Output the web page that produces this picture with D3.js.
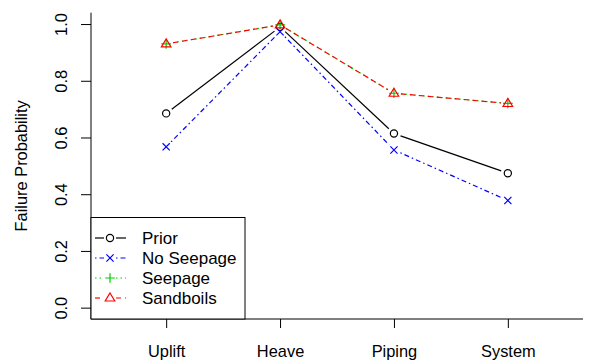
<!DOCTYPE html>
<html>
<head>
<meta charset="utf-8">
<script src="https://cdn.jsdelivr.net/npm/d3@7"></script>
<style>
  body { margin: 0; background: #fff; }
  text { font-family: "Liberation Sans", Arial, sans-serif; }
</style>
</head>
<body>
<svg id="chart" width="593" height="360"></svg>
<script>
var categories = ["Uplift", "Heave", "Piping", "System"];
var prior = [0.685, 0.99, 0.614, 0.474];
var noSeepage = [0.567, 0.973, 0.556, 0.378];
var seepage = [0.93, 0.997, 0.756, 0.72];
var sandboils = [0.93, 0.997, 0.756, 0.72];
var yTicks = [0, 0.2, 0.4, 0.6, 0.8, 1.0];

var series = [
    { name: "Prior", values: prior, color: "#000000", dash: null, pch: "circle" },
    { name: "No Seepage", values: noSeepage, color: "#0000ff", dash: "1.5,3,5,3", pch: "cross" },
    { name: "Seepage", values: seepage, color: "#00cd00", dash: "1.5,3", pch: "plus" },
    { name: "Sandboils", values: sandboils, color: "#ff0000", dash: "5,4", pch: "triangle" }
];

var svg = d3.select("#chart");
var plotLeft = 91, plotRight = 583, plotTop = 12.7, plotBottom = 319;
var fontSize = 16.4;

var x = d3.scaleLinear().domain([0.34, 4.66]).range([plotLeft, plotRight]);
var y = d3.scaleLinear().domain([-0.04, 1.04]).range([plotBottom, plotTop]);

// axes (L-shaped box)
svg.append("line").attr("x1", plotLeft).attr("x2", plotRight).attr("y1", plotBottom).attr("y2", plotBottom)
    .attr("stroke", "#000").attr("stroke-width", 1);
svg.append("line").attr("x1", plotLeft).attr("x2", plotLeft).attr("y1", plotTop).attr("y2", plotBottom)
    .attr("stroke", "#000").attr("stroke-width", 1);

var xAxis = d3.axisBottom(x).tickValues([1, 2, 3, 4])
    .tickFormat(function(d) { return categories[d - 1]; })
    .tickSize(9);
var gx = svg.append("g").attr("transform", "translate(0," + plotBottom + ")").call(xAxis);
gx.select(".domain").remove();
gx.selectAll(".tick text").attr("font-size", fontSize).attr("fill", "#000")
    .style("font-family", "'Liberation Sans', Arial, sans-serif")
    .attr("y", 38).attr("dy", null);

var yAxis = d3.axisLeft(y).tickValues(yTicks).tickFormat(d3.format(".1f")).tickSize(10).tickPadding(0);
var gy = svg.append("g").attr("transform", "translate(" + plotLeft + ",0)").call(yAxis);
gy.select(".domain").remove();
gy.selectAll(".tick text").attr("font-size", fontSize).attr("fill", "#000")
    .style("font-family", "'Liberation Sans', Arial, sans-serif")
    .attr("x", null).attr("dy", null)
    .attr("text-anchor", "middle")
    .attr("transform", "translate(-30,0) rotate(-90)")
    .attr("dominant-baseline", "central");

svg.append("text").text("Failure Probability")
    .attr("transform", "translate(27," + y(0.5) + ") rotate(-90)")
    .attr("text-anchor", "middle").attr("font-size", fontSize).attr("fill", "#000");

function drawSymbol(g, pch, cx, cy, color) {
    var r = 3.6;
    if (pch === "circle") {
        g.append("circle").attr("cx", cx).attr("cy", cy).attr("r", r)
            .attr("fill", "none").attr("stroke", color).attr("stroke-width", 1.2);
    } else if (pch === "cross") {
        g.append("path").attr("d", "M" + (cx - r) + "," + (cy - r) + "L" + (cx + r) + "," + (cy + r) +
            "M" + (cx - r) + "," + (cy + r) + "L" + (cx + r) + "," + (cy - r))
            .attr("stroke", color).attr("stroke-width", 1.2);
    } else if (pch === "plus") {
        var p = r * 1.35;
        g.append("path").attr("d", "M" + (cx - p) + "," + cy + "L" + (cx + p) + "," + cy +
            "M" + cx + "," + (cy - p) + "L" + cx + "," + (cy + p))
            .attr("stroke", color).attr("stroke-width", 1.2);
    } else if (pch === "triangle") {
        var t = r * 1.4;
        g.append("path").attr("d", "M" + cx + "," + (cy - t) + "L" + (cx + t * 0.95) + "," + (cy + t * 0.6) +
            "L" + (cx - t * 0.95) + "," + (cy + t * 0.6) + "Z")
            .attr("fill", "none").attr("stroke", color).attr("stroke-width", 1.2);
    }
}

// lines with gaps around points (type = "b")
var gap = 7;
series.forEach(function(s) {
    var g = svg.append("g");
    for (var i = 0; i < s.values.length - 1; i++) {
        var x1 = x(i + 1), y1 = y(s.values[i]);
        var x2 = x(i + 2), y2 = y(s.values[i + 1]);
        var len = Math.sqrt((x2 - x1) * (x2 - x1) + (y2 - y1) * (y2 - y1));
        if (len <= 2 * gap) continue;
        var ux = (x2 - x1) / len, uy = (y2 - y1) / len;
        g.append("line")
            .attr("x1", x1 + ux * gap).attr("y1", y1 + uy * gap)
            .attr("x2", x2 - ux * gap).attr("y2", y2 - uy * gap)
            .attr("stroke", s.color).attr("stroke-width", 1.2)
            .attr("stroke-dasharray", s.dash);
    }
    s.values.forEach(function(v, i) {
        drawSymbol(g, s.pch, x(i + 1), y(v), s.color);
    });
});

// legend
var lg = svg.append("g");
lg.append("rect").attr("x", plotLeft).attr("y", 217.5).attr("width", 154).attr("height", plotBottom - 217.5)
    .attr("fill", "#fff").attr("stroke", "#000").attr("stroke-width", 1);
series.forEach(function(s, i) {
    var cy = 238 + i * 20;
    lg.append("line").attr("x1", 95).attr("x2", 104).attr("y1", cy).attr("y2", cy)
        .attr("stroke", s.color).attr("stroke-width", 1.2).attr("stroke-dasharray", s.dash);
    lg.append("line").attr("x1", 116).attr("x2", 126).attr("y1", cy).attr("y2", cy)
        .attr("stroke", s.color).attr("stroke-width", 1.2).attr("stroke-dasharray", s.dash);
    drawSymbol(lg, s.pch, 110, cy, s.color);
    lg.append("text").text(s.name).attr("x", 142).attr("y", cy)
        .attr("dominant-baseline", "central").attr("font-size", 17).attr("fill", "#000");
});
</script>
</body>
</html>
